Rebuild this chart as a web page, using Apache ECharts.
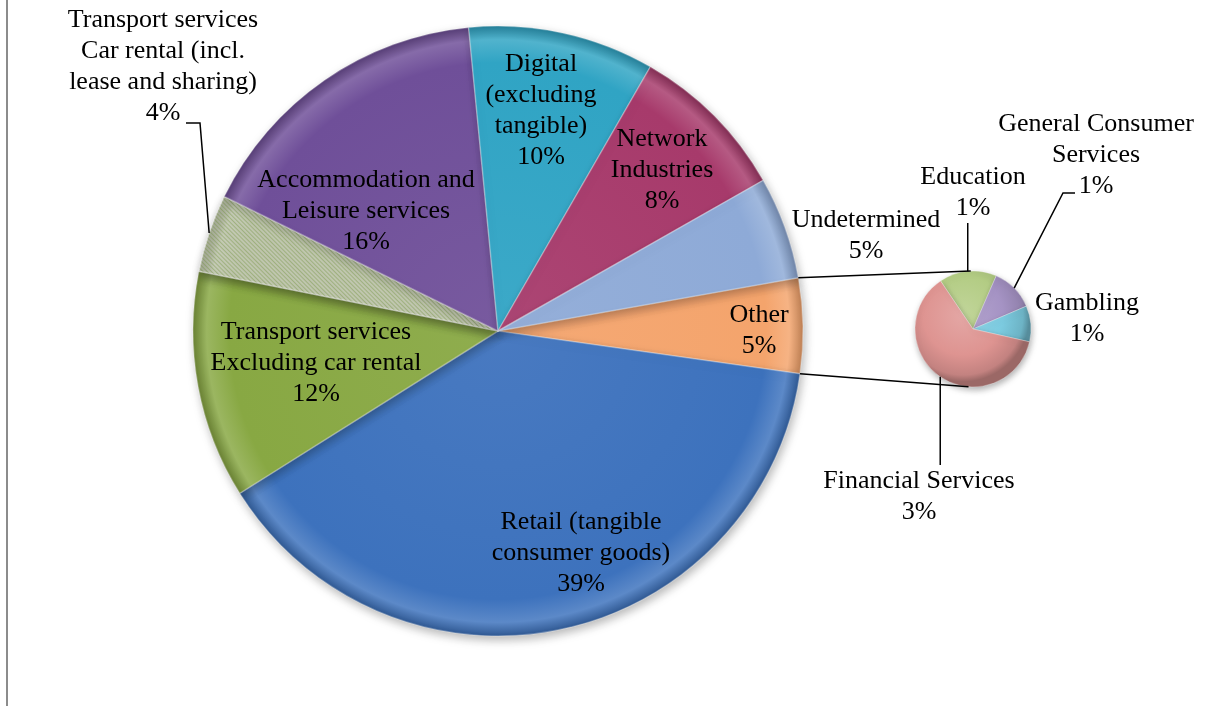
<!DOCTYPE html>
<html>
<head>
<meta charset="utf-8">
<script src="https://cdn.jsdelivr.net/npm/echarts@6/dist/echarts.min.js"></script>
<style>
  html, body { margin: 0; padding: 0; background: #ffffff; }
  #chart { width: 1213px; height: 706px; }
</style>
</head>
<body>
<div id="chart"></div>
<script>
// ---- Data: share of cases by sector (%) ----
const mainCategories = [
  'Other',
  'Retail (tangible\nconsumer goods)',
  'Transport services\nExcluding car rental',
  'Transport services\nCar rental (incl.\nlease and sharing)',
  'Accommodation and\nLeisure services',
  'Digital\n(excluding\ntangible)',
  'Network\nIndustries',
  'Undetermined'
];
const mainValues = [5.0, 38.6, 12.0, 4.1, 16.1, 9.8, 8.4, 5.4];

// Breakdown of the "Other" slice
const otherCategories = ['Education', 'General Consumer\nServices', 'Gambling', 'Financial Services'];
const otherValues = [0.8, 0.6, 0.5, 3.1];

// ---- Palette ----
const mainColors = ['#f4a46c', '#3d72bd', '#88a843', '#e1e9cc', '#6f4f99', '#30a4c4', '#a73a6b', '#8eaad7'];
const otherColors = ['#b3cc84', '#a593c4', '#7ccbe0', '#de9491'];

// ---- Layout ----
const MAIN = { cx: 498, cy: 331, r: 305 };
const SUB = { cx: 973, cy: 329, r: 58 };
const FONT = 'Liberation Serif';

const mainLabelAt = [[759, 331], [581, 553], [316, 363], [163, 67], [366, 211], [541, 111], [662, 170], [866, 236]];
const otherLabelAt = [[973, 193], [1096, 155], [1087, 319], [919, 497]];

function sum(a) { return a.reduce((s, v) => s + v, 0); }
function mix(hex, target, t) {
  const n = parseInt(hex.slice(1), 16);
  const c = [(n >> 16) & 255, (n >> 8) & 255, n & 255];
  const m = c.map(v => Math.round(v + (target - v) * t));
  return 'rgb(' + m.join(',') + ')';
}
function pt(c, deg, r) {
  const t = deg * Math.PI / 180;
  const rr = r === undefined ? c.r : r;
  return [c.cx + rr * Math.cos(t), c.cy + rr * Math.sin(t)];
}
// Screen angles (deg, clockwise from 3 o'clock) of each slice
function sliceAngles(values, startMath) {
  const total = sum(values);
  let a = -startMath;
  return values.map(v => { const s = a; a += v / total * 360; return [s, a]; });
}
// Tangent point on circle c seen from point p (sign picks the side)
function tangent(p, c, sign) {
  const dx = p[0] - c.cx, dy = p[1] - c.cy;
  const d = Math.sqrt(dx * dx + dy * dy);
  const base = Math.atan2(dy, dx) * 180 / Math.PI;
  const th = Math.acos(c.r / d) * 180 / Math.PI;
  return pt(c, base + sign * th);
}

// "Other" sits on the right-hand side of the main pie, tipped slightly upward
const mainStart = mainValues[0] / sum(mainValues) * 180 + 1;
const otherStart = 124;
const mainAng = sliceAngles(mainValues, mainStart);
const otherAng = sliceAngles(otherValues, otherStart);

function mainFill(base) {
  return {
    type: 'radial', x: MAIN.cx, y: MAIN.cy, r: MAIN.r, global: true,
    colorStops: [
      { offset: 0, color: mix(base, 255, 0.06) },
      { offset: 0.88, color: base },
      { offset: 0.955, color: mix(base, 255, 0.16) },
      { offset: 1, color: mix(base, 0, 0.22) }
    ]
  };
}
function subFill(base) {
  return {
    type: 'radial', x: SUB.cx - 10, y: SUB.cy - 14, r: SUB.r * 1.15, global: true,
    colorStops: [
      { offset: 0, color: mix(base, 255, 0.18) },
      { offset: 0.6, color: base },
      { offset: 0.9, color: mix(base, 0, 0.12) },
      { offset: 1, color: mix(base, 0, 0.3) }
    ]
  };
}

const mainData = mainCategories.map((name, i) => {
  const item = {
    name: name,
    value: mainValues[i],
    itemStyle: { color: mainFill(mainColors[i]) }
  };
  if (i === 3) {
    item.itemStyle.decal = {
      symbol: 'rect', symbolSize: 1,
      dashArrayX: [1, 0], dashArrayY: [1, 2],
      rotation: Math.PI / 4,
      color: 'rgba(120,150,70,0.45)'
    };
  }
  return item;
});
const otherData = otherCategories.map((name, i) => ({
  name: name,
  value: otherValues[i],
  itemStyle: { color: subFill(otherColors[i]) }
}));

const labelStyle = {
  show: true,
  position: 'inside',
  formatter: p => p.name + '\n' + Math.round(p.value) + '%',
  color: '#000',
  fontFamily: FONT,
  fontSize: 26,
  lineHeight: 31,
  textBorderWidth: 0,
  textShadowBlur: 0
};

// ---- Connector and leader lines ----
const lineStyle = { stroke: '#000', lineWidth: 1.5, fill: null };
const otherTop = pt(MAIN, mainAng[0][0]);
const otherBottom = pt(MAIN, mainAng[0][1]);
const tanTop = tangent(otherTop, SUB, 1);
const tanBottom = tangent(otherBottom, SUB, -1);

function mid(a) { return (a[0] + a[1]) / 2; }
const carEdge = pt(MAIN, mid(mainAng[3]));
const eduEdge = pt(SUB, mid(otherAng[0]));
const genEdge = pt(SUB, mid(otherAng[1]));
const finEdge = pt(SUB, mid(otherAng[3]));

const graphics = [
  { type: 'line', shape: { x1: 7, y1: 0, x2: 7, y2: 706 }, style: { stroke: '#8c8c8c', lineWidth: 2 }, silent: true },
  { type: 'line', shape: { x1: otherTop[0], y1: otherTop[1], x2: tanTop[0], y2: tanTop[1] }, style: lineStyle, z: 10, silent: true },
  { type: 'line', shape: { x1: otherBottom[0], y1: otherBottom[1], x2: tanBottom[0], y2: tanBottom[1] }, style: lineStyle, z: 10, silent: true },
  { type: 'polyline', shape: { points: [[186, 123], [200, 123], carEdge] }, style: lineStyle, z: 10, silent: true },
  { type: 'polyline', shape: { points: [[eduEdge[0], 223], eduEdge] }, style: lineStyle, z: 10, silent: true },
  { type: 'polyline', shape: { points: [[1075, 193], [1063, 193], genEdge] }, style: lineStyle, z: 10, silent: true },
  { type: 'polyline', shape: { points: [finEdge, [finEdge[0], 465]] }, style: lineStyle, z: 10, silent: true }
];

const chart = echarts.init(document.getElementById('chart'), null, { renderer: 'canvas' });
chart.setOption({
  animation: false,
  backgroundColor: '#ffffff',
  graphic: graphics,
  series: [
    {
      type: 'pie',
      center: [MAIN.cx, MAIN.cy],
      radius: MAIN.r,
      startAngle: mainStart,
      clockwise: true,
      avoidLabelOverlap: false,
      data: mainData,
      itemStyle: {
        borderColor: 'rgba(255,255,255,0.28)',
        borderWidth: 1.5,
        shadowBlur: 10,
        shadowColor: 'rgba(0,0,0,0.28)',
        shadowOffsetX: 2,
        shadowOffsetY: 4
      },
      label: labelStyle,
      labelLine: { show: false },
      labelLayout: p => {
        const a = mainLabelAt[p.dataIndex];
        return { x: a[0], y: a[1], align: 'center', verticalAlign: 'middle' };
      },
      emphasis: { disabled: true }
    },
    {
      type: 'pie',
      center: [SUB.cx, SUB.cy],
      radius: SUB.r,
      startAngle: otherStart,
      clockwise: true,
      avoidLabelOverlap: false,
      data: otherData,
      itemStyle: {
        borderColor: 'rgba(255,255,255,0.3)',
        borderWidth: 1,
        shadowBlur: 6,
        shadowColor: 'rgba(0,0,0,0.3)',
        shadowOffsetX: 1,
        shadowOffsetY: 3
      },
      label: labelStyle,
      labelLine: { show: false },
      labelLayout: p => {
        const a = otherLabelAt[p.dataIndex];
        return { x: a[0], y: a[1], align: 'center', verticalAlign: 'middle' };
      },
      emphasis: { disabled: true }
    }
  ]
});
</script>
</body>
</html>
